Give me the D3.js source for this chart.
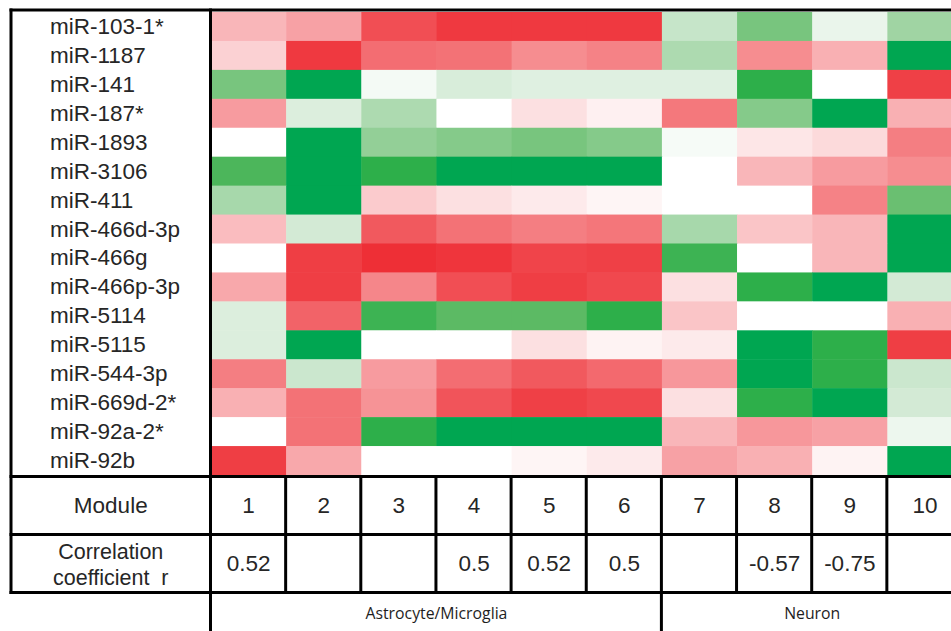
<!DOCTYPE html>
<html>
<head>
<meta charset="utf-8">
<script src="https://cdn.jsdelivr.net/npm/d3@7"></script>
<style>
  html, body { margin: 0; padding: 0; background: #fff; overflow: hidden; }
  svg { display: block; }
</style>
</head>
<body>
<svg id="chart" width="951" height="631"></svg>
<script>
// miRNA rows of the heatmap
const mirnas = [
  "miR-103-1*", "miR-1187", "miR-141", "miR-187*", "miR-1893", "miR-3106",
  "miR-411", "miR-466d-3p", "miR-466g", "miR-466p-3p", "miR-5114", "miR-5115",
  "miR-544-3p", "miR-669d-2*", "miR-92a-2*", "miR-92b"
];

// module columns
const modules = ["1", "2", "3", "4", "5", "6", "7", "8", "9", "10"];

// correlation coefficient r per module (blank where not significant)
const correlation = ["0.52", "", "", "0.5", "0.52", "0.5", "", "-0.57", "-0.75", ""];

// cell types spanned by the modules
const cellTypes = ["Astrocyte/Microglia", "Neuron"];
const cellTypeFirst = ["1", "7"];
const cellTypeLast = ["6", "10"];

// relative level per miRNA (rows) and module (columns): red > 0, green < 0
const levels = [
  [ 0.35,  0.45,  0.85,  0.95,  0.95,  0.95, -0.30, -0.60, -0.12, -0.45],
  [ 0.22,  0.95,  0.70,  0.68,  0.55,  0.60, -0.40,  0.55,  0.38, -1.00],
  [-0.60, -1.00, -0.06, -0.22, -0.18, -0.18, -0.18, -0.85,  0.00,  0.92],
  [ 0.48, -0.20, -0.40,  0.00,  0.15,  0.07,  0.65, -0.55, -1.00,  0.38],
  [ 0.00, -1.00, -0.50, -0.55, -0.60, -0.55, -0.05,  0.12,  0.18,  0.62],
  [-0.75, -1.00, -0.85, -1.00, -1.00, -1.00,  0.00,  0.35,  0.48,  0.55],
  [-0.42, -1.00,  0.25,  0.15,  0.10,  0.05,  0.00,  0.00,  0.60, -0.65],
  [ 0.32, -0.25,  0.80,  0.68,  0.62,  0.66, -0.42,  0.28,  0.35, -1.00],
  [ 0.00,  0.93,  1.00,  0.97,  0.90,  0.92, -0.80,  0.00,  0.35, -1.00],
  [ 0.42,  0.93,  0.58,  0.85,  0.93,  0.88,  0.15, -0.85, -1.00, -0.25],
  [-0.20,  0.75, -0.80, -0.70, -0.70, -0.85,  0.28,  0.00,  0.00,  0.38],
  [-0.20, -1.00,  0.00,  0.00,  0.15,  0.06,  0.10, -1.00, -0.85,  0.93],
  [ 0.62, -0.28,  0.48,  0.70,  0.80,  0.72,  0.50, -1.00, -0.85, -0.28],
  [ 0.38,  0.68,  0.52,  0.82,  0.92,  0.88,  0.15, -0.85, -1.00, -0.25],
  [ 0.00,  0.68, -0.85, -1.00, -1.00, -1.00,  0.35,  0.50,  0.45, -0.10],
  [ 0.93,  0.42,  0.00,  0.00,  0.05,  0.10,  0.45,  0.38,  0.06, -1.00]
];

// ---- layout ----
const svg = d3.select("#chart");
const frameLeft = 11, frameTop = 10;
const labelRight = 210.5;
const colWidth = 75.15;
const heatTop = 12, heatBottom = 475;
const moduleRowBottom = 534.5, corrRowBottom = 592.5, pageBottom = 631;
const lineW = 3;
const ink = "#262626";
const textFont = "'Liberation Sans', Arial, sans-serif";

const x = d3.scaleBand()
  .domain(modules)
  .range([labelRight + 0.5, labelRight + 0.5 + colWidth * modules.length]);

const y = d3.scaleBand()
  .domain(mirnas)
  .range([heatTop, heatBottom]);

const color = d3.scaleLinear()
  .domain([-1, -0.85, -0.7, -0.5, -0.25, 0, 1])
  .range(["#00a651", "#2daf4a", "#5cba64", "#93cf97", "#d3ead5", "#ffffff", "#ee2f36"])
  .clamp(true);

// heatmap cells
const cells = [];
levels.forEach((row, i) => row.forEach((v, j) => cells.push({ mir: mirnas[i], mod: modules[j], v })));

svg.append("g")
  .selectAll("rect")
  .data(cells)
  .join("rect")
  .attr("x", d => x(d.mod))
  .attr("y", d => y(d.mir))
  .attr("width", x.bandwidth() + 0.5)
  .attr("height", y.bandwidth() + 0.5)
  .attr("fill", d => color(d.v));

// row labels
svg.append("g")
  .selectAll("text")
  .data(mirnas)
  .join("text")
  .attr("x", 50)
  .attr("y", d => y(d) + y.bandwidth() / 2 + 7.5)
  .attr("font-family", textFont)
  .attr("font-size", 22.5)
  .attr("fill", ink)
  .text(d => d);

// table text
const moduleMid = (476.5 + moduleRowBottom) / 2;
const corrMid = (moduleRowBottom + corrRowBottom) / 2;
const labelMid = (frameLeft + labelRight) / 2;

svg.append("text")
  .attr("x", labelMid).attr("y", moduleMid + 7.5)
  .attr("text-anchor", "middle")
  .attr("font-family", textFont).attr("font-size", 22.5).attr("fill", ink)
  .text("Module");

// two-line row header
const corrHead = svg.append("text")
  .attr("text-anchor", "middle")
  .attr("font-family", textFont).attr("font-size", 21.5).attr("fill", ink)
  .attr("xml:space", "preserve");
corrHead.append("tspan").attr("x", labelMid).attr("y", corrMid - 4.5).text("Correlation");
corrHead.append("tspan").attr("x", labelMid).attr("y", corrMid + 21).text("coefficient  r");

svg.append("g")
  .selectAll("text")
  .data(modules)
  .join("text")
  .attr("x", d => x(d) + x.bandwidth() / 2)
  .attr("y", moduleMid + 7.5)
  .attr("text-anchor", "middle")
  .attr("font-family", textFont).attr("font-size", 22.5).attr("fill", ink)
  .text(d => d);

svg.append("g")
  .selectAll("text")
  .data(modules.map((m, i) => ({ m, r: correlation[i] })))
  .join("text")
  .attr("x", d => x(d.m) + x.bandwidth() / 2)
  .attr("y", corrMid + 7.5)
  .attr("text-anchor", "middle")
  .attr("font-family", textFont).attr("font-size", 22.5).attr("fill", ink)
  .text(d => d.r);

// cell-type captions under the table
svg.append("g")
  .selectAll("text")
  .data(cellTypes.map((t, i) => ({ t, a: cellTypeFirst[i], b: cellTypeLast[i] })))
  .join("text")
  .attr("x", d => (x(d.a) + x(d.b) + x.bandwidth()) / 2)
  .attr("y", 618.5)
  .attr("text-anchor", "middle")
  .attr("font-family", "'Open Sans', 'Noto Sans', sans-serif")
  .attr("font-size", 15.8)
  .attr("fill", "#1e1e1e")
  .text(d => d.t);

// ---- grid lines ----
const lines = svg.append("g")
  .attr("stroke", "#000")
  .attr("stroke-width", lineW)
  .attr("stroke-linecap", "square");

const rightEdge = 960;
// horizontal rules
[frameTop, 476.5, moduleRowBottom, corrRowBottom].forEach(yy => {
  lines.append("line").attr("x1", frameLeft).attr("x2", rightEdge).attr("y1", yy).attr("y2", yy);
});
// outer left edge
lines.append("line").attr("x1", frameLeft).attr("x2", frameLeft).attr("y1", frameTop).attr("y2", corrRowBottom);
// label column edge, running down through the caption band
lines.append("line").attr("x1", labelRight).attr("x2", labelRight).attr("y1", frameTop).attr("y2", pageBottom + 2);
// module column edges within the table rows
modules.slice(1).concat(["end"]).forEach(m => {
  const xx = m === "end" ? x.range()[1] : x(m) - 0.5;
  lines.append("line").attr("x1", xx).attr("x2", xx).attr("y1", 476.5).attr("y2", corrRowBottom);
});
// divider between cell-type groups
cellTypeFirst.slice(1).forEach(m => {
  const xx = x(m) - 0.5;
  lines.append("line").attr("x1", xx).attr("x2", xx).attr("y1", corrRowBottom).attr("y2", pageBottom + 2);
});
</script>
</body>
</html>
